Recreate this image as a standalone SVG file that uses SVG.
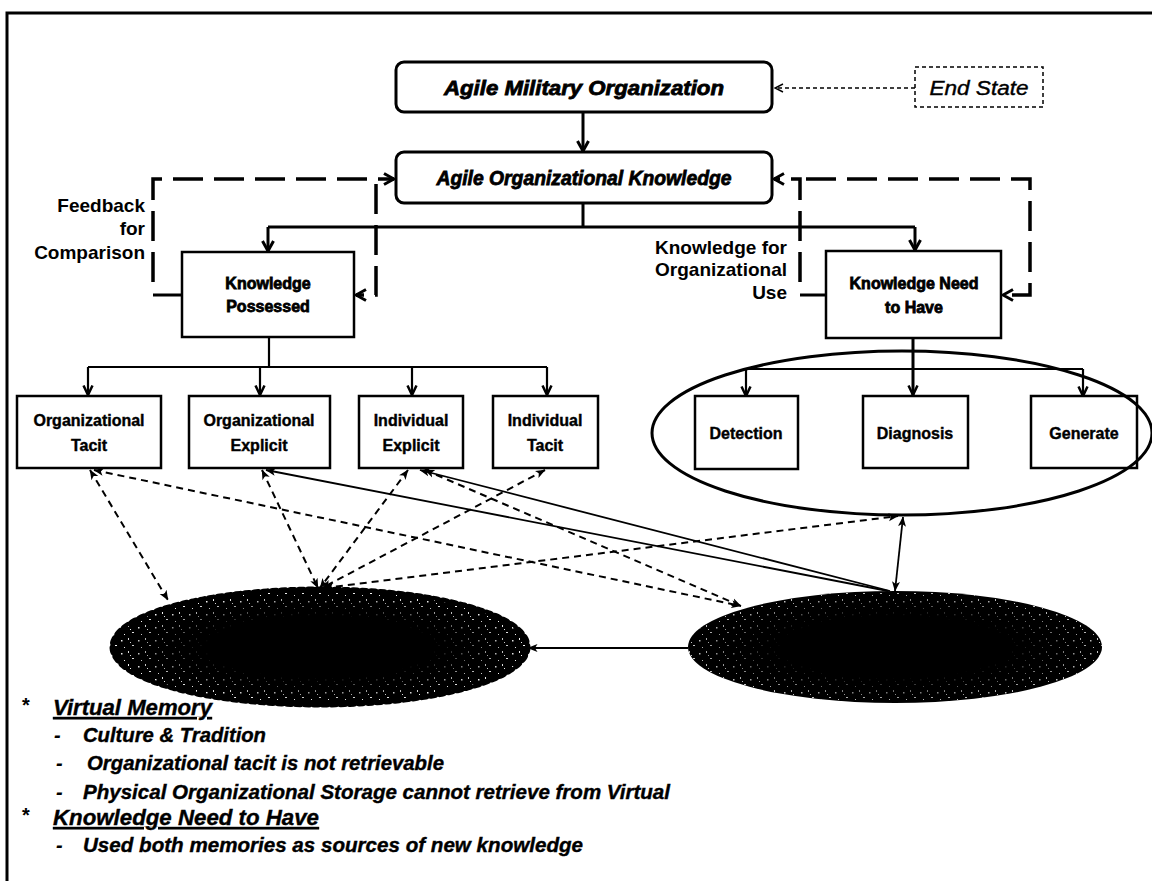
<svg xmlns="http://www.w3.org/2000/svg" width="1152" height="881" viewBox="0 0 1152 881">
<style>
  .t{font-family:"Liberation Sans",Arial,sans-serif;fill:#000}
  .b{font-weight:bold}
  .bi{font-weight:bold;font-style:italic}
  .heavy{stroke:#000;stroke-width:0.8}
  .semi{stroke:#000;stroke-width:0.4}
  .box{fill:#fff;stroke:#000;stroke-width:3}
  .sbox{fill:#fff;stroke:#000;stroke-width:2.5}
  .thick{fill:none;stroke:#000;stroke-width:3}
  .mid{fill:none;stroke:#000;stroke-width:2.2}
  .loop{fill:none;stroke:#000;stroke-width:3.5;stroke-dasharray:30 11}
  .dl{fill:none;stroke:#000;stroke-width:2;stroke-dasharray:7 5}
  .sl{fill:none;stroke:#000;stroke-width:1.8}
</style>
<defs>
  <marker id="ch" viewBox="0 0 14 14" refX="12" refY="7" markerWidth="14" markerHeight="14" markerUnits="userSpaceOnUse" orient="auto-start-reverse">
    <path d="M2,1.5 L12,7 L2,12.5" fill="none" stroke="#000" stroke-width="3"/>
  </marker>
  <marker id="chs" viewBox="0 0 12 12" refX="11" refY="6" markerWidth="12" markerHeight="12" markerUnits="userSpaceOnUse" orient="auto-start-reverse">
    <path d="M1.5,1.5 L11,6 L1.5,10.5" fill="none" stroke="#000" stroke-width="2.5"/>
  </marker>
  <marker id="dot" viewBox="0 0 10 10" refX="9" refY="5" markerWidth="10" markerHeight="10" markerUnits="userSpaceOnUse" orient="auto-start-reverse">
    <path d="M1,1 L9,5 L1,9" fill="none" stroke="#000" stroke-width="1.4"/>
  </marker>
  <marker id="sa" viewBox="0 0 10 10" refX="9.5" refY="5" markerWidth="10" markerHeight="10" markerUnits="userSpaceOnUse" orient="auto-start-reverse">
    <path d="M0,1 L10,5 L0,9 L2.5,5z" fill="#000"/>
  </marker>
  <pattern id="speck" width="17" height="13" patternUnits="userSpaceOnUse">
    <rect x="2" y="3" width="1.5" height="1.5" fill="#fff"/>
    <rect x="9" y="1" width="1" height="2" fill="#fff"/>
    <rect x="13" y="8" width="2" height="1" fill="#fff"/>
    <rect x="5" y="10" width="1" height="1" fill="#fff"/>
    <rect x="11" y="5" width="1" height="1" fill="#fff"/>
  </pattern>
  <radialGradient id="rg" cx="0.5" cy="0.5" r="0.5">
    <stop offset="0" stop-color="#000"/>
    <stop offset="0.55" stop-color="#000"/>
    <stop offset="1" stop-color="#fff"/>
  </radialGradient>
  <mask id="mL" maskUnits="userSpaceOnUse" x="0" y="560" width="1152" height="170">
    <ellipse cx="320" cy="647" rx="206" ry="56" fill="url(#rg)"/>
  </mask>
  <mask id="mR" maskUnits="userSpaceOnUse" x="0" y="560" width="1152" height="170">
    <ellipse cx="895" cy="647" rx="207" ry="56" fill="url(#rg)"/>
  </mask>
</defs>

<rect x="0" y="0" width="1152" height="881" fill="#fff"/>
<path d="M7,881 V13 H1152" fill="none" stroke="#000" stroke-width="3"/>

<g id="connectors">
  <line x1="915" y1="88" x2="775" y2="88" fill="none" stroke="#000" stroke-width="1.5" stroke-dasharray="4 3" marker-end="url(#dot)"/>
  <line x1="583" y1="112" x2="583" y2="151" class="thick" marker-end="url(#ch)"/>
  <path d="M583,203 V227 M268,227 H915" class="thick"/>
  <line x1="268" y1="227" x2="268" y2="251" class="thick" marker-end="url(#ch)"/>
  <line x1="915" y1="227" x2="915" y2="250" class="thick" marker-end="url(#ch)"/>
  <path d="M182,295 H153" class="thick"/>
  <path d="M153,282 V179 H394" class="loop" marker-end="url(#ch)"/>
  <path d="M376,184 V295 H356" class="loop" marker-end="url(#ch)"/>
  <path d="M826,295 H800" class="thick"/>
  <path d="M800,282 V179 H774" class="loop" marker-end="url(#ch)"/>
  <path d="M806,179 H1030 V295 H1003" class="loop" marker-end="url(#ch)"/>
  <path d="M269,337 V367 M88,367 H547" class="mid"/>
  <line x1="88" y1="367" x2="88" y2="395" class="mid" marker-end="url(#chs)"/>
  <line x1="260" y1="367" x2="260" y2="395" class="mid" marker-end="url(#chs)"/>
  <line x1="412" y1="367" x2="412" y2="395" class="mid" marker-end="url(#chs)"/>
  <line x1="547" y1="367" x2="547" y2="395" class="mid" marker-end="url(#chs)"/>
  <path d="M746,369 H1083" class="mid"/>
  <line x1="913" y1="338" x2="913" y2="395" class="thick" marker-end="url(#chs)"/>
  <line x1="746" y1="369" x2="746" y2="396" class="mid" marker-end="url(#chs)"/>
  <line x1="1083" y1="369" x2="1083" y2="396" class="mid" marker-end="url(#chs)"/>
  <line x1="90" y1="470" x2="168" y2="600" class="dl" marker-start="url(#sa)" marker-end="url(#sa)"/>
  <line x1="94" y1="470" x2="741" y2="606" class="dl" marker-start="url(#sa)" marker-end="url(#sa)"/>
  <line x1="262" y1="470" x2="318" y2="588" class="dl" marker-start="url(#sa)" marker-end="url(#sa)"/>
  <line x1="408" y1="470" x2="320" y2="588" class="dl" marker-start="url(#sa)" marker-end="url(#sa)"/>
  <line x1="545" y1="470" x2="322" y2="588" class="dl" marker-start="url(#sa)" marker-end="url(#sa)"/>
  <line x1="425" y1="470" x2="741" y2="606" class="dl" marker-start="url(#sa)" marker-end="url(#sa)"/>
  <line x1="324" y1="588" x2="898" y2="516" class="dl" marker-start="url(#sa)" marker-end="url(#sa)"/>
  <line x1="888" y1="591" x2="266" y2="470" class="sl" marker-end="url(#sa)"/>
  <line x1="890" y1="591" x2="420" y2="470" class="sl" marker-end="url(#sa)"/>
  <line x1="903" y1="517" x2="895" y2="591" class="sl" marker-start="url(#sa)" marker-end="url(#sa)"/>
  <line x1="688" y1="648" x2="528" y2="648" class="sl" marker-end="url(#sa)"/>
</g>

<g id="n-agile-military">
  <rect x="396" y="62" width="376" height="50" rx="8" class="box"/>
  <text x="584" y="95" class="t bi heavy" font-size="20" text-anchor="middle" textLength="280" lengthAdjust="spacingAndGlyphs">Agile Military Organization</text>
</g>
<g id="n-end-state">
  <rect x="915" y="67" width="128" height="40" fill="#fff" stroke="#000" stroke-width="1.5" stroke-dasharray="4 3"/>
  <text x="979" y="95" class="t semi" font-style="italic" font-size="20" text-anchor="middle" textLength="99" lengthAdjust="spacingAndGlyphs">End State</text>
</g>
<g id="n-agile-knowledge">
  <rect x="396" y="152" width="376" height="51" rx="8" class="box"/>
  <text x="584" y="185" class="t bi heavy" font-size="20" text-anchor="middle" textLength="295" lengthAdjust="spacingAndGlyphs">Agile Organizational Knowledge</text>
</g>
<g id="lbl-feedback">
  <text class="t b" font-size="19" text-anchor="end"><tspan x="145" y="212">Feedback</tspan><tspan x="145" y="235">for</tspan><tspan x="145" y="259">Comparison</tspan></text>
</g>
<g id="lbl-org-use">
  <text class="t b" font-size="19" text-anchor="end"><tspan x="787" y="254">Knowledge for</tspan><tspan x="787" y="276">Organizational</tspan><tspan x="787" y="299">Use</tspan></text>
</g>
<g id="n-kp">
  <rect x="182" y="252" width="172" height="85" class="sbox"/>
  <text class="t b heavy" font-size="16" text-anchor="middle"><tspan x="268" y="289">Knowledge</tspan><tspan x="268" y="312">Possessed</tspan></text>
</g>
<g id="n-knh">
  <rect x="826" y="251" width="175" height="87" class="sbox"/>
  <text class="t b heavy" font-size="16" text-anchor="middle"><tspan x="914" y="289">Knowledge Need</tspan><tspan x="914" y="313">to Have</tspan></text>
</g>
<g id="n-org-tacit">
  <rect x="17" y="396" width="144" height="72" class="sbox"/>
  <text class="t b semi" font-size="16" text-anchor="middle"><tspan x="89" y="426">Organizational</tspan><tspan x="89" y="451">Tacit</tspan></text>
</g>
<g id="n-org-explicit">
  <rect x="189" y="396" width="141" height="72" class="sbox"/>
  <text class="t b semi" font-size="16" text-anchor="middle"><tspan x="259" y="426">Organizational</tspan><tspan x="259" y="451">Explicit</tspan></text>
</g>
<g id="n-ind-explicit">
  <rect x="359" y="396" width="104" height="72" class="sbox"/>
  <text class="t b semi" font-size="16" text-anchor="middle"><tspan x="411" y="426">Individual</tspan><tspan x="411" y="451">Explicit</tspan></text>
</g>
<g id="n-ind-tacit">
  <rect x="493" y="396" width="105" height="72" class="sbox"/>
  <text class="t b semi" font-size="16" text-anchor="middle"><tspan x="545" y="426">Individual</tspan><tspan x="545" y="451">Tacit</tspan></text>
</g>
<g id="n-detection">
  <rect x="695" y="396" width="103" height="73" class="sbox"/>
  <text x="746" y="439" class="t b semi" font-size="16" text-anchor="middle">Detection</text>
</g>
<g id="n-diagnosis">
  <rect x="863" y="396" width="105" height="72" class="sbox"/>
  <text x="915" y="439" class="t b semi" font-size="16" text-anchor="middle">Diagnosis</text>
</g>
<g id="n-generate">
  <rect x="1031" y="396" width="106" height="72" class="sbox"/>
  <text x="1084" y="439" class="t b semi" font-size="16" text-anchor="middle">Generate</text>
</g>
<g id="n-need-ellipse">
  <ellipse cx="902" cy="433" rx="250" ry="82" fill="none" stroke="#000" stroke-width="3"/>
</g>
<g id="n-virtual-memory">
  <ellipse cx="320" cy="647" rx="206" ry="56" fill="#000" stroke="#000" stroke-width="9" stroke-dasharray="4 5" stroke-linecap="round"/>
  <rect x="100" y="585" width="440" height="125" fill="url(#speck)" mask="url(#mL)"/>
</g>
<g id="n-physical-memory">
  <ellipse cx="895" cy="647" rx="207" ry="56" fill="#000"/>
  <rect x="680" y="585" width="430" height="125" fill="url(#speck)" mask="url(#mR)" opacity="0.8"/>
</g>

<g id="notes">
  <text x="22" y="712" class="t b" font-size="20">*</text>
  <text x="53" y="715" class="t bi semi" font-size="22" text-decoration="underline" textLength="159" lengthAdjust="spacingAndGlyphs">Virtual Memory</text>
  <text x="54" y="742" class="t bi" font-size="20">-</text>
  <text x="83" y="742" class="t bi semi" font-size="20" textLength="183" lengthAdjust="spacingAndGlyphs">Culture &amp; Tradition</text>
  <text x="56" y="770" class="t bi" font-size="20">-</text>
  <text x="87" y="770" class="t bi semi" font-size="20" textLength="357" lengthAdjust="spacingAndGlyphs">Organizational tacit is not retrievable</text>
  <text x="56" y="799" class="t bi" font-size="20">-</text>
  <text x="83" y="799" class="t bi semi" font-size="20" textLength="587" lengthAdjust="spacingAndGlyphs">Physical Organizational Storage cannot retrieve from Virtual</text>
  <text x="22" y="822" class="t b" font-size="20">*</text>
  <text x="53" y="825" class="t bi semi" font-size="22" text-decoration="underline" textLength="266" lengthAdjust="spacingAndGlyphs">Knowledge Need to Have</text>
  <text x="56" y="852" class="t bi" font-size="20">-</text>
  <text x="83" y="852" class="t bi semi" font-size="20" textLength="500" lengthAdjust="spacingAndGlyphs">Used both memories as sources of new knowledge</text>
</g>
</svg>
